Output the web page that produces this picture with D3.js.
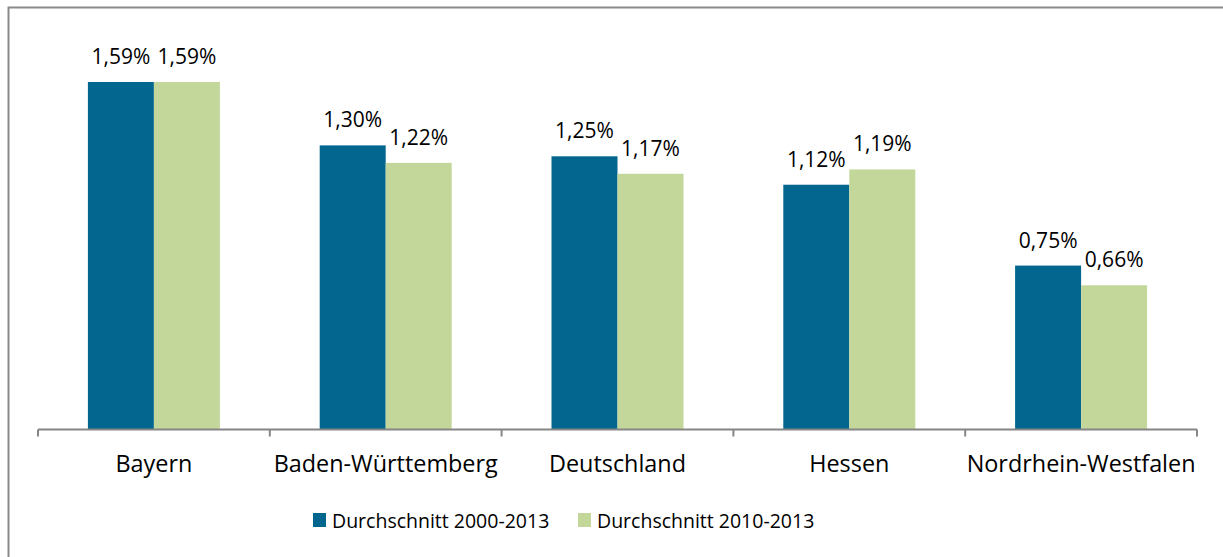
<!DOCTYPE html>
<html><head><meta charset="utf-8">
<script src="https://cdn.jsdelivr.net/npm/d3@7"></script>
<style>html,body{margin:0;padding:0;background:#fff;}svg{display:block;}</style>
</head><body>
<svg id="c" width="1223" height="557"></svg>
<script>
const categories = ["Bayern","Baden-Württemberg","Deutschland","Hessen","Nordrhein-Westfalen"];
const seriesNames = ["Durchschnitt 2000-2013","Durchschnitt 2010-2013"];
const values2000 = [1.59,1.30,1.25,1.12,0.75];
const values2010 = [1.59,1.22,1.17,1.19,0.66];
const colors = ["#02668F","#C4D79B"];
const font = "'Open Sans', sans-serif";

const svg = d3.select("#c");
svg.append("rect").attr("x",8.5).attr("y",7.5).attr("width",1240).attr("height",600)
  .attr("fill","#fff").attr("stroke","#898989").attr("stroke-width",2);

const left=38, right=1197, base=429.5;
const x0 = d3.scaleBand().domain(categories).range([left,right]).paddingInner(0).paddingOuter(0);
const x1 = d3.scaleBand().domain([0,1]).range([0,132]);
const y = d3.scaleLinear().domain([0,1.59]).range([base,82]);

const data = categories.map((c,i)=>({c, v:[values2000[i],values2010[i]]}));
const off = (x0.bandwidth()-132)/2;
const g = svg.append("g");
const grp = g.selectAll("g.cat").data(data).join("g")
  .attr("transform",d=>`translate(${x0(d.c)+off},0)`);
grp.selectAll("rect").data(d=>d.v.map((v,k)=>({v,k}))).join("rect")
  .attr("x",d=>x1(d.k)).attr("width",x1.bandwidth())
  .attr("y",d=>y(d.v)).attr("height",d=>base-y(d.v))
  .attr("fill",d=>colors[d.k]);
grp.selectAll("text").data(d=>d.v.map((v,k)=>({v,k}))).join("text")
  .attr("x",d=>x1(d.k)+x1.bandwidth()/2).attr("y",d=>y(d.v)-18)
  .attr("text-anchor","middle").attr("font-family",font).attr("font-size",21).attr("fill","#000")
  .text(d=>d.v.toFixed(2).replace(".",",")+"%");

// axis
const ax = svg.append("g").attr("transform",`translate(0,${base})`);
ax.append("line").attr("x1",left).attr("x2",right).attr("stroke","#868686").attr("stroke-width",2);
const bounds = d3.range(categories.length+1).map(i=> i<categories.length ? x0(categories[i]) : right);
ax.selectAll("line.tk").data(bounds).join("line").attr("class","tk")
  .attr("x1",d=>d).attr("x2",d=>d).attr("y1",0).attr("y2",7).attr("stroke","#868686").attr("stroke-width",2);
ax.selectAll("text.lab").data(categories).join("text").attr("class","lab")
  .attr("x",d=>x0(d)+x0.bandwidth()/2).attr("y",42)
  .attr("text-anchor","middle").attr("font-family",font).attr("font-size",23.4).attr("fill","#000")
  .text(d=>d);

// legend
const legX=[313,578];
const leg = svg.append("g").selectAll("g").data(seriesNames).join("g")
  .attr("transform",(d,i)=>`translate(${legX[i]},513)`);
leg.append("rect").attr("width",13).attr("height",14).attr("fill",(d,i)=>colors[i]);
leg.append("text").attr("x",19).attr("y",14.5).attr("font-family",font).attr("font-size",19.5).attr("fill","#000").text(d=>d);
</script>
</body></html>
